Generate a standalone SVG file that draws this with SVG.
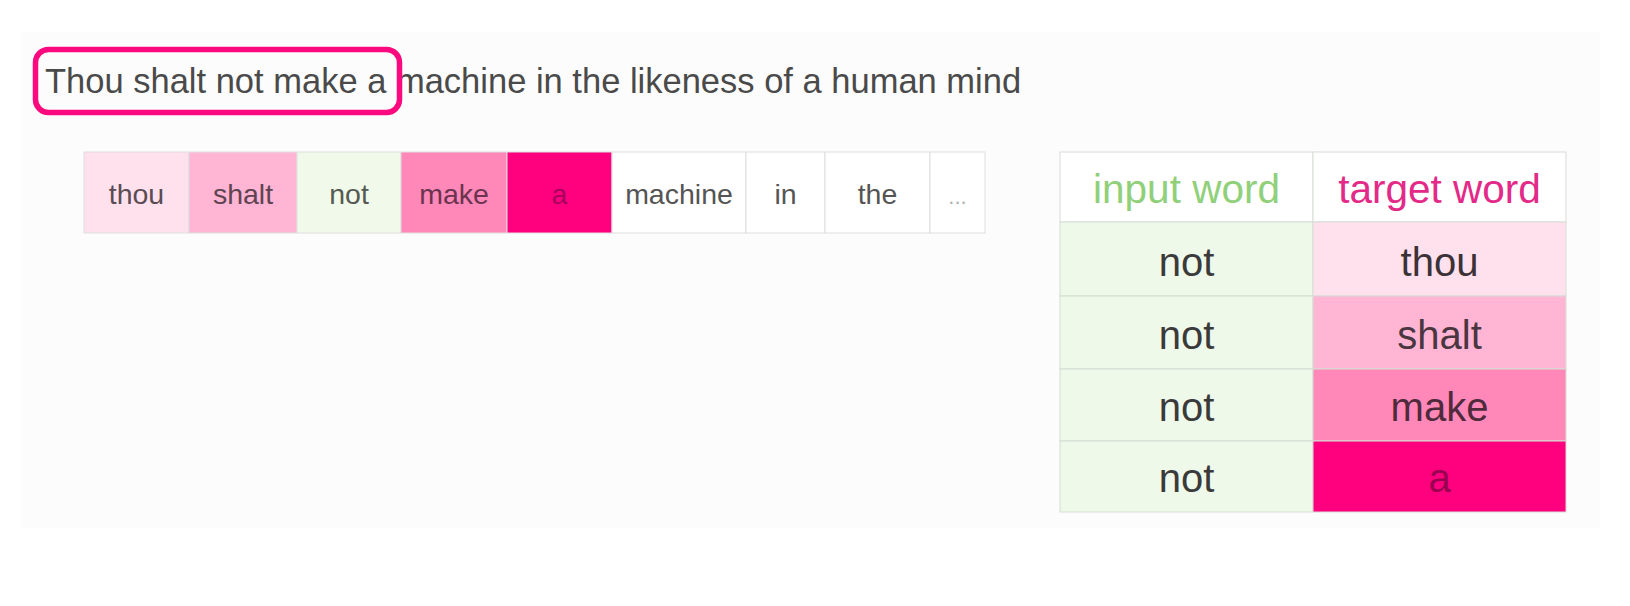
<svg xmlns="http://www.w3.org/2000/svg" width="1630" height="606" viewBox="0 0 1630 606">
<style>
  text { font-family: "Liberation Sans", Arial, sans-serif; text-anchor: middle; }
  .cell { stroke: #dedede; stroke-width: 1; }
  .w { font-size: 28.5px; fill: #555; }
  .t { font-size: 40px; fill: #3a3a3a; }
  .h { font-size: 40.5px; }
  .tcell { stroke: #d6dcd4; stroke-width: 1; }
</style>
<rect x="0" y="0" width="1630" height="606" fill="#ffffff"/>
<rect x="22" y="32" width="1578" height="496" fill="#fcfcfc"/>

<g id="sentence">
  <text x="45" y="93" style="text-anchor:start;font-size:34.5px;fill:#4a4a4a">Thou shalt not make a machine in the likeness of a human mind</text>
</g>
<g id="highlight">
  <rect x="35.5" y="49.5" width="364" height="63" rx="13" fill="none" stroke="#fa0a7e" stroke-width="5.5"/>
</g>

<g id="word-row">
  <g id="w-thou"><rect class="cell" x="84" y="152" width="105" height="81" fill="#ffe1ee"/><text class="w" x="136.5" y="204" style="fill:#5a4c53">thou</text></g>
  <g id="w-shalt"><rect class="cell" x="189" y="152" width="108" height="81" fill="#ffb5d3"/><text class="w" x="243" y="204" style="fill:#5e4452">shalt</text></g>
  <g id="w-not"><rect class="cell" x="297" y="152" width="104" height="81" fill="#f0f9ea"/><text class="w" x="349" y="204" style="fill:#555a52">not</text></g>
  <g id="w-make"><rect class="cell" x="401" y="152" width="106" height="81" fill="#ff88b8"/><text class="w" x="454" y="204" style="fill:#6a3450">make</text></g>
  <g id="w-a"><rect class="cell" x="507" y="152" width="105" height="81" fill="#ff007f" stroke="#ff007f"/><text class="w" x="559.5" y="204" style="fill:#a8005c">a</text></g>
  <g id="w-machine"><rect class="cell" x="612" y="152" width="134" height="81" fill="#ffffff"/><text class="w" x="679" y="204">machine</text></g>
  <g id="w-in"><rect class="cell" x="746" y="152" width="79" height="81" fill="#ffffff"/><text class="w" x="785.5" y="204">in</text></g>
  <g id="w-the"><rect class="cell" x="825" y="152" width="105" height="81" fill="#ffffff"/><text class="w" x="877.5" y="204">the</text></g>
  <g id="w-more"><rect class="cell" x="930" y="152" width="55" height="81" fill="#ffffff"/><text class="w" x="957.5" y="204" style="font-size:22px;fill:#b0b0b0">...</text></g>
</g>

<g id="table">
  <g id="th-input"><rect class="tcell" x="1060" y="152" width="253" height="70" fill="#ffffff" stroke="#dcdcdc"/><text class="h" x="1186.5" y="203" style="fill:#90d07a">input word</text></g>
  <g id="th-target"><rect class="tcell" x="1313" y="152" width="253" height="70" fill="#ffffff" stroke="#dcdcdc"/><text class="h" x="1439.5" y="203" style="fill:#e32a88">target word</text></g>

  <g id="r1-in"><rect class="tcell" x="1060" y="222" width="253" height="74" fill="#eff9ea"/><text class="t" x="1186.5" y="276">not</text></g>
  <g id="r1-out"><rect class="tcell" x="1313" y="222" width="253" height="74" fill="#ffe1ee" stroke="#f2d3e0"/><text class="t" x="1439.5" y="276" style="fill:#3a3236">thou</text></g>

  <g id="r2-in"><rect class="tcell" x="1060" y="296" width="253" height="73" fill="#eff9ea"/><text class="t" x="1186.5" y="349">not</text></g>
  <g id="r2-out"><rect class="tcell" x="1313" y="296" width="253" height="73" fill="#ffb5d3" stroke="#f0a8c5"/><text class="t" x="1439.5" y="349" style="fill:#4a3640">shalt</text></g>

  <g id="r3-in"><rect class="tcell" x="1060" y="369" width="253" height="72" fill="#eff9ea"/><text class="t" x="1186.5" y="421">not</text></g>
  <g id="r3-out"><rect class="tcell" x="1313" y="369" width="253" height="72" fill="#ff88b8" stroke="#f280b0"/><text class="t" x="1439.5" y="421" style="fill:#4e2a3c">make</text></g>

  <g id="r4-in"><rect class="tcell" x="1060" y="441" width="253" height="71" fill="#eff9ea"/><text class="t" x="1186.5" y="492">not</text></g>
  <g id="r4-out"><rect class="tcell" x="1313" y="441" width="253" height="71" fill="#ff007f" stroke="#f5007a"/><text class="t" x="1439.5" y="492" style="fill:#9a0052">a</text></g>
</g>
</svg>
